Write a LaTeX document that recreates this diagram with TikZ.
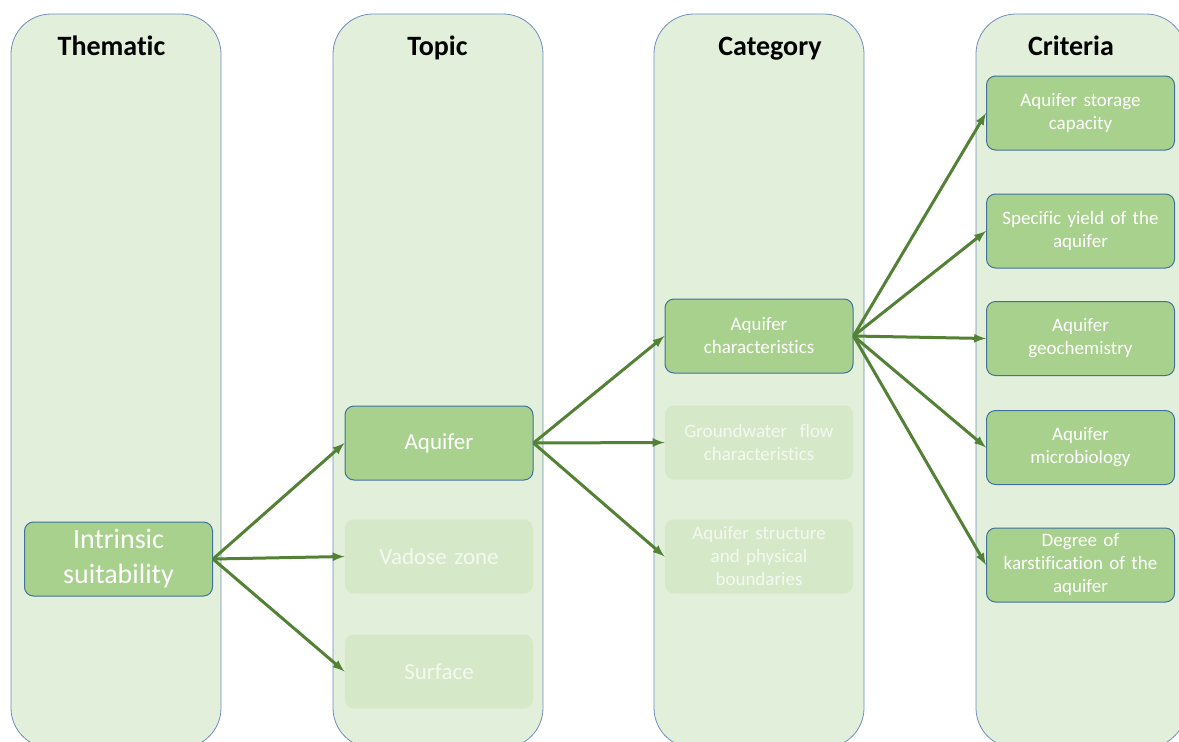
\documentclass[tikz,border=0pt]{standalone}
\usepackage{fontspec}
\setmainfont{Carlito}[Ligatures=NoCommon]
\usetikzlibrary{positioning}
\definecolor{colfill}{HTML}{E2EFDA}
\definecolor{colline}{HTML}{6F8FBF}
\definecolor{boxfill}{HTML}{A9D18E}
\definecolor{boxline}{HTML}{41719C}
\definecolor{fadefill}{HTML}{D5E8C8}
\definecolor{fadetext}{HTML}{F3F9F0}
\definecolor{arrowgreen}{HTML}{538135}

\begin{document}
\begin{tikzpicture}
        [x=1pt,y=-1pt,>=latex,
         column/.style={draw=colline,fill=colfill,line width=0.8pt,rounded corners=40pt},
         header/.style={anchor=base,font=\fontsize{28}{33}\selectfont\bfseries},
         box/.style={draw=boxline,fill=boxfill,line width=1pt,rounded corners=9pt,
                     minimum width=188pt,minimum height=74pt,inner sep=2pt,text width=180pt,
                     align=center,text=white,font=\fontsize{19}{23}\selectfont},
         faded/.style={box,draw=none,fill=fadefill,text=fadetext},
         link/.style={->,draw=arrowgreen,line width=3pt}]

        \useasboundingbox (0,0) rectangle (1179,742);

        \draw[column] (11,14) rectangle (221,748);
        \draw[column] (333,14) rectangle (543,748);
        \draw[column] (654,14) rectangle (864,748);
        \draw[column] (976,14) rectangle (1186,748);

        \node[header] (thematic) at (111.5,55) {Thematic};
        \node[header] (topic) at (437.5,55) {Topic};
        \node[header] (category) at (770,55) {Category};
        \node[header] (criteria) at (1071,55) {Criteria};

        \node[box,font=\fontsize{28}{35}\selectfont] (intrinsic) at (118.5,559) {Intrinsic\\suitability};

        \node[box,font=\fontsize{23}{28}\selectfont] (aquifer) at (439,443) {Aquifer};
        \node[faded,font=\fontsize{23}{28}\selectfont] (vadose) at (439,556.5) {Vadose zone};
        \node[faded,font=\fontsize{23}{28}\selectfont] (surface) at (439,671.5) {Surface};

        \node[box] (aqchar) at (759,336) {Aquifer\\characteristics};
        \node[faded] (flow) at (759,442.5) {Groundwater\ \ flow\\characteristics};
        \node[faded] (structure) at (759,556.5) {Aquifer structure\\and physical\\boundaries};

        \node[box] (storage) at (1080.5,113) {Aquifer storage\\capacity};
        \node[box] (yield) at (1080.5,231) {Specific yield of the\\aquifer};
        \node[box] (geochem) at (1080.5,338.5) {Aquifer\\geochemistry};
        \node[box] (microbio) at (1080.5,447.5) {Aquifer\\microbiology};
        \node[box] (karst) at (1080.5,565) {Degree of\\karstification of the\\aquifer};

        \foreach \t in {aquifer,vadose,surface}
            \draw[link] (intrinsic.east) -- (\t.west);
        \foreach \t in {aqchar,flow,structure}
            \draw[link] (aquifer.east) -- (\t.west);
        \foreach \t in {storage,yield,geochem,microbio,karst}
            \draw[link] (aqchar.east) -- (\t.west);

    \end{tikzpicture}
\end{document}
